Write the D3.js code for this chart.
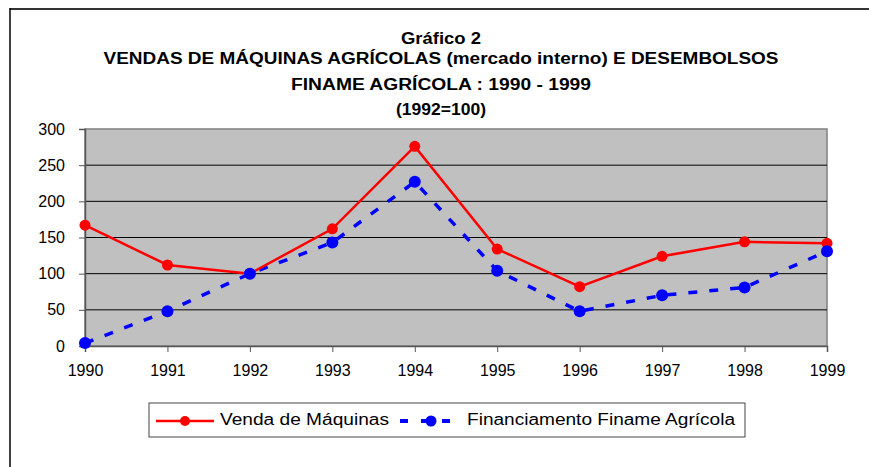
<!DOCTYPE html>
<html>
<head>
<meta charset="utf-8">
<script src="https://cdn.jsdelivr.net/npm/d3@7"></script>
<style>
  body { margin: 0; background: #fff; }
  svg { display: block; font-family: Arial, "Liberation Sans", sans-serif; }
</style>
</head>
<body>
<svg id="chart" width="869" height="467"></svg>
<script>
// data
const years = ["1990", "1991", "1992", "1993", "1994", "1995", "1996", "1997", "1998", "1999"];
const vendas = [167, 112, 100, 162, 276, 134, 82, 124, 144, 142];
const finame = [4, 48, 100, 143, 227, 104, 48, 70, 81, 131];
const yTicks = [0, 50, 100, 150, 200, 250, 300];
const titleLines = [
  "Gráfico 2",
  "VENDAS DE MÁQUINAS AGRÍCOLAS (mercado interno) E DESEMBOLSOS",
  "FINAME AGRÍCOLA : 1990 - 1999",
  "(1992=100)"
];
const seriesNames = ["Venda de Máquinas", "Financiamento Finame Agrícola"];

const svg = d3.select("#chart");

const plot = {left: 85, right: 827, top: 129, bottom: 346};

// outer frame (right and bottom edges are cut off)
svg.append("line")
  .attr("x1", 10).attr("x2", 869).attr("y1", 9).attr("y2", 9)
  .attr("stroke", "#333").attr("stroke-width", 2);
svg.append("line")
  .attr("x1", 10).attr("x2", 10).attr("y1", 8).attr("y2", 467)
  .attr("stroke", "#000").attr("stroke-width", 1.5);

// title, narrow bold face squeezed to the widths seen in the picture
const titleY = [40, 60, 86, 111];
const titleW = [80, 675, 300, 90];
svg.append("g")
  .selectAll("text")
  .data(titleLines)
  .join("text")
    .attr("x", 441)
    .attr("y", (d, i) => titleY[i])
    .attr("text-anchor", "middle")
    .attr("dominant-baseline", "middle")
    .attr("font-size", 16)
    .attr("font-weight", "bold")
    .attr("fill", "#000")
    .attr("textLength", (d, i) => titleW[i])
    .attr("lengthAdjust", "spacingAndGlyphs")
    .text(d => d);

const x = d3.scalePoint()
  .domain(years)
  .range([plot.left, plot.right]);

const y = d3.scaleLinear()
  .domain([0, 300])
  .range([plot.bottom, plot.top]);

// plot background
svg.append("rect")
  .attr("x", plot.left).attr("y", plot.top)
  .attr("width", plot.right - plot.left)
  .attr("height", plot.bottom - plot.top)
  .attr("fill", "#c0c0c0")
  .attr("stroke", "#808080")
  .attr("stroke-width", 1.5);

// gridlines
svg.append("g")
  .selectAll("line")
  .data(yTicks.filter(t => t > 0 && t < 300))
  .join("line")
    .attr("x1", plot.left).attr("x2", plot.right)
    .attr("y1", d => y(d)).attr("y2", d => y(d))
    .attr("stroke", "#000")
    .attr("stroke-width", 1);

// y axis
const yAxis = svg.append("g")
  .attr("transform", `translate(${plot.left},0)`)
  .call(d3.axisLeft(y).tickValues(yTicks).tickSize(6).tickPadding(14));
yAxis.select(".domain").attr("stroke", "#555").attr("stroke-width", 1.5);
yAxis.selectAll(".tick line").attr("stroke", "#555");
yAxis.selectAll("text")
  .attr("font-size", 16)
  .attr("font-family", "Arial, 'Liberation Sans', sans-serif")
  .attr("fill", "#000");

// x axis
const xAxis = svg.append("g")
  .attr("transform", `translate(0,${plot.bottom})`)
  .call(d3.axisBottom(x).tickSize(6).tickPadding(13));
xAxis.select(".domain").attr("stroke", "#555").attr("stroke-width", 1.5);
xAxis.selectAll(".tick line").attr("stroke", "#555");
xAxis.selectAll("text")
  .attr("font-size", 16)
  .attr("font-family", "Arial, 'Liberation Sans', sans-serif")
  .attr("fill", "#000");

const line = d3.line()
  .x((d, i) => x(years[i]))
  .y(d => y(d));

// finame series, blue dashed
svg.append("path")
  .datum(finame)
  .attr("fill", "none")
  .attr("stroke", "#0000ff")
  .attr("stroke-width", 3.5)
  .attr("stroke-dasharray", "9,12")
  .attr("d", line);

// vendas series, red solid
svg.append("path")
  .datum(vendas)
  .attr("fill", "none")
  .attr("stroke", "#ff0000")
  .attr("stroke-width", 2.5)
  .attr("d", line);

svg.append("g")
  .selectAll("circle")
  .data(vendas)
  .join("circle")
    .attr("cx", (d, i) => x(years[i]))
    .attr("cy", d => y(d))
    .attr("r", 5.5)
    .attr("fill", "#ff0000");

svg.append("g")
  .selectAll("circle")
  .data(finame)
  .join("circle")
    .attr("cx", (d, i) => x(years[i]))
    .attr("cy", d => y(d))
    .attr("r", 6)
    .attr("fill", "#0000ff");

// legend
const legend = svg.append("g");
legend.append("rect")
  .attr("x", 149).attr("y", 403)
  .attr("width", 596).attr("height", 34)
  .attr("fill", "#fff")
  .attr("stroke", "#444")
  .attr("stroke-width", 1);

legend.append("line")
  .attr("x1", 156).attr("x2", 214).attr("y1", 421).attr("y2", 421)
  .attr("stroke", "#ff0000").attr("stroke-width", 2.5);
legend.append("circle")
  .attr("cx", 185).attr("cy", 421).attr("r", 5)
  .attr("fill", "#ff0000");
legend.append("text")
  .attr("x", 220).attr("y", 421)
  .attr("dominant-baseline", "middle")
  .attr("font-size", 16)
  .attr("textLength", 169)
  .attr("lengthAdjust", "spacingAndGlyphs")
  .text(seriesNames[0]);

legend.append("line")
  .attr("x1", 400).attr("x2", 451).attr("y1", 421).attr("y2", 421)
  .attr("stroke", "#0000ff").attr("stroke-width", 4)
  .attr("stroke-dasharray", "8,13");
legend.append("circle")
  .attr("cx", 431).attr("cy", 421).attr("r", 5.5)
  .attr("fill", "#0000ff");
legend.append("text")
  .attr("x", 467).attr("y", 421)
  .attr("dominant-baseline", "middle")
  .attr("font-size", 16)
  .attr("textLength", 268)
  .attr("lengthAdjust", "spacingAndGlyphs")
  .text(seriesNames[1]);
</script>
</body>
</html>
